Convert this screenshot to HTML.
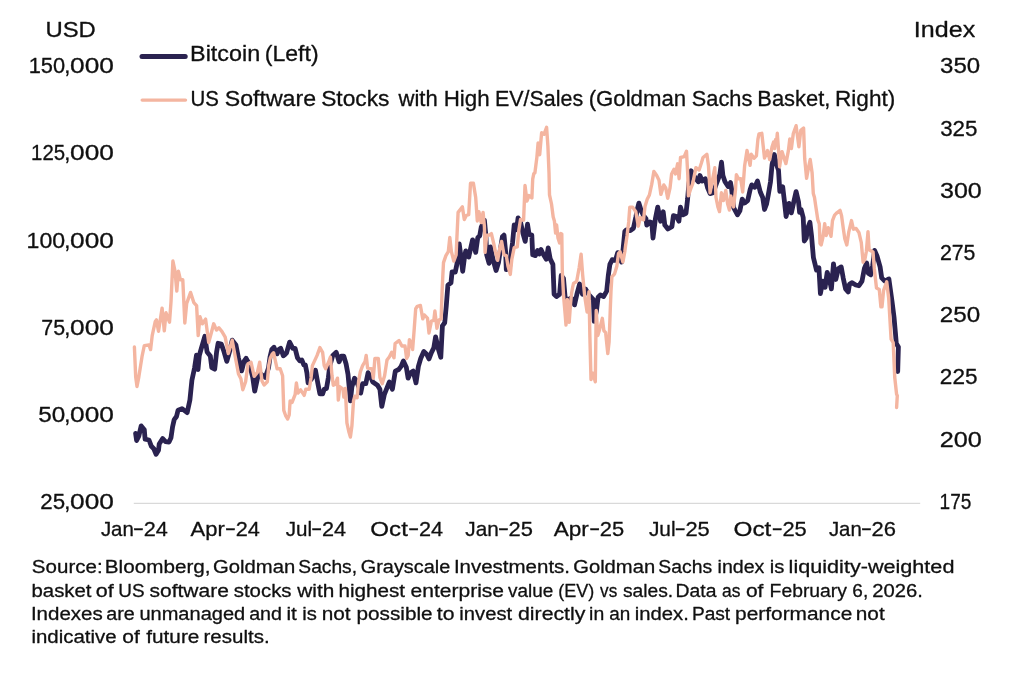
<!DOCTYPE html>
<html lang="en">
<head>
<meta charset="utf-8">
<title>Bitcoin vs US Software Stocks</title>
<style>
html,body{margin:0;padding:0;background:#fff;}
body{width:1024px;height:675px;overflow:hidden;}
svg{display:block;}
svg text{font-family:"Liberation Sans",sans-serif;fill:#101010;stroke:#101010;stroke-width:0.3px;stroke-linejoin:round;}
</style>
</head>
<body>
<svg width="1024" height="675" viewBox="0 0 1024 675">
<rect width="1024" height="675" fill="#ffffff"/>
<line x1="133.8" y1="503.3" x2="920.2" y2="503.3" stroke="#d9d9d9" stroke-width="1.2"/>
<path d="M135.6,433.5 L136.6,440.5 L138.8,436.1 L141.2,425.9 L144.3,429.8 L145.1,439.2 L149.0,440.0 L151.4,446.3 L153.8,448.7 L156.1,454.2 L158.5,450.2 L159.2,444.0 L162.7,438.5 L165.5,441.6 L169.0,442.0 L171.0,437.7 L172.6,426.7 L174.2,419.6 L176.5,416.5 L178.1,410.2 L182.0,408.6 L187.2,412.6 L189.9,400.0 L191.9,380.2 L194.6,367.7 L196.5,355.1 L198.0,369.5 L199.3,355.5 L201.6,347.3 L204.8,336.3 L207.1,352.0 L210.3,355.9 L211.8,367.7 L214.7,369.2 L216.6,352.0 L218.1,343.3 L221.3,344.1 L223.6,350.4 L226.8,361.4 L229.9,350.4 L232.2,340.2 L235.9,344.9 L238.5,358.3 L241.7,370.8 L244.0,361.4 L246.1,358.3 L249.5,364.5 L252.7,377.1 L254.7,391.2 L257.4,378.7 L258.9,372.4 L265.2,377.5 L268.5,368.0 L270.0,357.0 L271.8,349.5 L274.0,347.3 L275.5,351.0 L277.1,353.8 L278.8,349.5 L280.7,348.3 L282.0,352.0 L283.3,355.8 L285.0,354.5 L286.5,353.1 L289.6,342.1 L292.8,348.3 L295.1,348.3 L297.5,357.8 L299.8,360.9 L301.9,360.1 L303.8,364.8 L305.3,364.8 L306.9,372.7 L308.1,382.9 L311.5,379.0 L315.5,370.3 L317.9,383.7 L319.9,393.9 L322.6,393.9 L324.2,389.2 L326.5,388.4 L328.4,377.4 L329.7,366.4 L332.8,355.4 L336.2,352.3 L339.1,361.7 L341.4,356.2 L343.8,356.2 L346.1,364.0 L348.0,374.2 L349.3,388.4 L350.4,400.9 L351.9,386.8 L354.5,378.2 L356.3,380.5 L358.7,386.8 L360.7,393.1 L362.6,383.7 L365.8,383.7 L368.1,372.7 L370.5,376.6 L372.8,382.1 L377.5,385.2 L379.9,389.2 L381.8,406.4 L384.3,394.7 L386.2,389.9 L389.3,382.1 L392.4,389.2 L395.3,371.1 L398.7,369.5 L401.1,366.4 L403.4,360.9 L406.3,367.2 L408.1,378.2 L410.5,372.7 L413.2,371.1 L416.0,382.9 L418.4,366.4 L420.7,358.5 L423.8,351.5 L426.7,354.2 L429.0,358.9 L431.4,352.6 L433.8,347.9 L435.6,336.9 L438.5,349.5 L440.8,357.3 L442.4,325.9 L444.7,322.8 L446.3,305.5 L447.9,285.1 L451.0,282.8 L452.1,271.8 L455.3,272.0 L456.9,264.2 L459.2,243.8 L461.1,257.9 L462.7,271.3 L464.7,255.6 L465.8,250.9 L468.7,257.1 L471.0,246.9 L472.6,239.9 L475.7,252.4 L477.8,237.5 L479.7,235.9 L481.2,227.3 L484.4,220.2 L485.9,235.9 L486.7,254.8 L489.1,263.4 L490.6,246.9 L493.0,259.5 L496.1,270.5 L498.5,262.6 L500.1,251.6 L502.4,236.7 L504.0,235.1 L505.6,251.6 L506.3,269.7 L509.5,268.0 L511.1,253.2 L512.6,242.2 L514.2,224.9 L516.5,229.7 L518.1,217.9 L520.5,222.0 L522.8,232.8 L525.2,241.4 L527.5,224.2 L529.1,234.4 L531.8,235.1 L532.7,254.8 L535.4,255.6 L537.5,250.5 L539.3,254.0 L541.0,249.5 L543.1,254.0 L546.3,259.2 L548.2,247.9 L550.2,258.9 L552.9,264.4 L554.1,294.2 L556.5,296.5 L559.6,294.2 L561.2,275.4 L563.5,278.5 L565.1,297.3 L567.5,300.5 L571.0,298.0 L573.0,299.4 L574.5,304.9 L576.9,294.2 L579.6,284.0 L582.4,294.2 L585.5,289.0 L589.0,295.0 L593.4,299.7 L594.2,321.4 L596.5,310.4 L598.1,297.3 L600.4,295.0 L603.6,296.5 L606.7,291.1 L608.3,275.4 L609.9,264.4 L612.2,259.7 L615.4,260.4 L617.7,252.6 L621.6,262.0 L623.2,247.9 L624.8,231.4 L626.3,229.8 L630.3,230.6 L633.4,228.3 L635.8,217.3 L637.3,209.4 L638.9,203.1 L641.3,211.0 L643.6,215.7 L646.0,218.8 L646.8,225.1 L649.9,222.0 L651.8,222.8 L653.0,238.0 L655.4,218.8 L657.7,207.1 L660.6,221.2 L663.2,211.8 L664.8,225.1 L667.9,229.0 L671.9,226.7 L673.4,215.7 L676.6,216.5 L678.9,221.2 L680.5,207.1 L682.9,214.9 L686.0,213.3 L687.6,199.1 L688.9,183.4 L691.2,170.8 L693.5,175.0 L695.9,178.7 L698.3,181.8 L699.9,175.5 L702.2,181.0 L705.3,178.7 L707.7,188.1 L710.1,193.6 L713.2,192.8 L717.1,181.8 L719.8,174.7 L721.5,162.2 L722.9,175.5 L725.0,181.8 L728.1,186.5 L730.5,182.6 L731.7,189.7 L733.6,207.7 L737.5,214.8 L739.9,210.8 L742.2,199.1 L744.6,203.0 L747.7,200.6 L750.1,189.7 L751.7,184.9 L754.8,187.3 L757.5,181.0 L760.3,192.0 L762.7,197.5 L764.5,209.5 L766.6,203.8 L768.1,195.9 L770.5,181.8 L772.1,164.5 L774.3,154.5 L776.6,164.5 L778.5,170.2 L779.8,191.4 L782.7,186.7 L784.5,202.0 L786.1,216.5 L789.0,203.4 L791.4,212.8 L793.8,201.8 L796.1,191.6 L798.5,201.8 L799.6,212.4 L801.1,209.6 L803.2,217.5 L804.3,241.0 L806.3,237.9 L807.6,228.5 L809.9,222.2 L811.5,235.5 L813.4,257.5 L816.5,270.1 L818.9,267.7 L820.4,293.6 L822.8,281.1 L825.1,287.3 L827.2,272.4 L829.1,277.9 L831.4,288.9 L833.5,263.8 L835.8,279.5 L838.5,268.5 L841.2,266.9 L843.2,277.9 L845.6,288.9 L848.2,292.0 L849.5,284.2 L851.8,282.6 L855.8,285.0 L858.9,285.8 L862.0,281.1 L864.4,268.5 L866.7,263.0 L868.3,273.2 L870.7,274.8 L872.7,265.4 L874.6,250.4 L877.0,255.9 L880.1,266.9 L881.7,277.9 L884.8,281.1 L888.9,279.0 L890.3,289.0 L892.0,301.4 L894.0,317.0 L895.4,332.8 L896.3,343.5 L898.4,347.0 L897.7,371.5" fill="none" stroke="#2a2250" stroke-width="4.8" stroke-linejoin="round" stroke-linecap="round"/>
<path d="M134.4,347.0 L135.7,377.1 L137.0,386.5 L138.8,377.1 L142.0,356.7 L144.3,345.7 L149.0,344.9 L150.6,349.6 L152.2,335.6 L155.3,321.4 L156.4,319.9 L158.5,331.3 L162.1,308.1 L164.3,330.8 L166.0,312.8 L169.5,322.2 L171.0,301.8 L172.9,261.0 L175.0,271.2 L176.8,291.1 L178.4,271.2 L180.4,279.8 L182.8,279.8 L184.8,323.0 L186.7,303.4 L190.6,292.4 L193.8,302.6 L196.6,305.7 L198.2,335.6 L200.0,316.7 L202.4,323.8 L205.6,319.1 L208.7,342.6 L211.0,334.0 L213.7,323.8 L216.5,330.1 L218.9,327.7 L222.0,331.6 L225.2,337.1 L228.3,353.6 L232.2,340.2 L235.4,357.5 L238.5,374.0 L240.9,378.7 L242.8,389.7 L245.6,381.8 L248.0,363.8 L251.0,362.2 L254.2,376.3 L257.4,372.4 L259.7,362.2 L262.0,381.0 L264.1,385.0 L267.3,381.8 L268.8,365.0 L270.3,358.0 L272.0,354.5 L273.6,352.7 L277.1,368.8 L280.2,368.8 L282.6,375.8 L283.8,410.4 L285.7,415.8 L287.7,419.0 L289.2,415.0 L290.1,400.9 L292.0,402.5 L295.1,394.7 L296.4,382.9 L297.9,393.1 L300.6,389.9 L304.2,395.4 L305.8,389.2 L309.2,389.2 L311.1,377.4 L312.4,365.6 L317.1,355.4 L319.9,347.6 L322.6,352.3 L324.2,365.6 L325.7,368.8 L328.4,362.5 L330.4,357.0 L332.0,375.8 L333.3,385.2 L335.2,384.4 L337.5,378.2 L338.3,400.1 L339.9,386.8 L343.0,389.2 L343.8,397.0 L345.4,388.4 L346.9,422.9 L349.0,432.3 L350.4,437.0 L351.9,426.1 L353.5,400.9 L354.8,396.2 L357.1,397.8 L358.7,380.5 L360.3,371.9 L362.6,365.6 L365.0,361.7 L366.2,355.4 L367.6,368.0 L372.0,368.8 L373.3,378.2 L374.9,358.5 L378.3,358.5 L379.9,377.4 L382.2,383.7 L384.6,375.8 L387.0,360.1 L389.3,357.0 L391.7,352.3 L394.0,357.8 L395.1,343.6 L399.0,340.5 L401.9,346.0 L405.0,346.0 L406.6,358.5 L408.2,355.4 L409.4,339.7 L411.3,342.8 L412.6,349.5 L414.1,330.6 L415.7,308.7 L417.3,306.3 L420.4,305.5 L422.8,318.9 L424.3,314.9 L427.5,318.1 L429.0,333.0 L431.4,321.2 L433.8,320.4 L434.9,311.0 L436.9,328.3 L439.2,319.7 L441.1,318.9 L442.1,291.4 L442.8,276.0 L443.5,262.6 L445.9,255.6 L448.3,251.6 L449.8,237.5 L451.4,251.6 L453.8,261.1 L456.1,254.8 L458.1,212.4 L462.4,206.9 L464.3,219.5 L466.3,215.5 L468.7,214.7 L470.5,183.3 L473.4,183.3 L475.7,197.5 L477.3,221.0 L478.9,211.6 L481.2,222.6 L483.1,212.4 L484.4,226.5 L485.1,252.4 L486.7,235.1 L489.1,235.1 L491.4,233.6 L493.8,243.8 L495.4,251.6 L497.7,260.3 L499.7,248.5 L501.6,241.4 L504.0,254.8 L506.3,255.6 L507.9,265.8 L510.3,274.4 L511.8,259.5 L514.2,247.7 L517.3,246.9 L518.9,229.7 L520.5,219.5 L523.6,220.2 L525.0,185.5 L527.0,201.0 L529.0,195.6 L531.9,197.9 L532.7,179.1 L533.8,173.6 L534.9,172.8 L536.9,157.1 L538.1,143.0 L539.7,154.7 L541.6,132.8 L544.0,134.3 L546.6,127.3 L547.9,146.1 L549.0,172.8 L549.5,194.8 L551.5,204.0 L553.2,217.0 L554.4,221.0 L555.6,233.0 L556.6,225.0 L558.0,238.0 L559.6,243.0 L560.7,233.5 L561.8,234.0 L562.3,270.6 L563.5,295.0 L565.1,313.5 L566.0,325.0 L567.3,299.5 L569.2,322.3 L570.6,303.0 L571.6,293.0 L572.6,287.5 L573.5,283.5 L576.7,281.3 L579.2,267.5 L581.1,254.2 L582.7,275.4 L584.7,296.0 L587.1,312.0 L589.0,291.6 L589.9,337.1 L591.0,379.5 L592.9,373.2 L595.3,381.8 L596.2,310.4 L597.8,335.5 L599.7,329.2 L602.3,318.3 L603.9,330.8 L605.6,332.4 L607.8,353.6 L609.1,341.8 L610.3,308.8 L611.0,291.1 L611.9,276.9 L614.6,273.8 L616.9,265.9 L618.5,253.4 L620.1,251.8 L622.9,262.0 L624.8,251.8 L625.6,245.5 L627.1,235.3 L628.7,222.0 L629.8,207.1 L632.6,207.1 L635.8,211.8 L638.3,226.2 L640.4,217.6 L643.5,220.0 L645.0,206.6 L647.2,199.3 L649.4,195.0 L651.7,184.4 L653.9,171.4 L656.7,175.5 L659.0,180.2 L660.9,194.4 L663.8,184.9 L665.8,188.1 L667.7,198.3 L670.0,188.1 L671.6,174.0 L674.0,169.2 L675.5,174.0 L677.6,163.8 L679.1,178.7 L680.5,157.5 L684.2,156.7 L686.5,151.2 L687.8,175.5 L688.4,195.9 L690.4,189.7 L692.8,183.4 L695.9,167.7 L699.1,170.0 L701.4,163.0 L703.0,157.5 L706.9,154.3 L708.5,166.1 L710.1,192.8 L712.4,180.2 L714.8,167.7 L716.0,197.5 L717.9,206.9 L719.5,211.6 L721.4,192.8 L723.4,200.6 L725.8,190.4 L727.6,203.8 L729.4,210.1 L730.8,195.9 L733.6,206.9 L735.5,189.7 L736.4,174.7 L738.6,178.7 L740.7,178.7 L742.7,192.0 L744.6,166.1 L747.0,150.4 L750.1,165.3 L751.2,154.3 L754.0,158.3 L756.4,155.9 L757.9,139.4 L759.0,133.9 L761.8,133.3 L763.2,146.0 L764.5,158.0 L767.5,150.6 L769.7,159.6 L772.0,147.0 L773.6,142.0 L774.6,148.5 L775.6,139.5 L776.4,144.0 L777.3,133.3 L778.6,151.0 L779.6,166.7 L782.0,151.6 L785.9,163.6 L788.4,150.6 L789.8,139.0 L791.4,148.5 L793.3,133.5 L796.1,125.7 L798.9,146.9 L800.8,130.4 L803.6,128.1 L804.7,158.7 L806.6,178.3 L808.7,166.5 L810.2,159.5 L812.1,172.8 L813.3,193.5 L814.5,197.5 L815.7,205.7 L817.8,219.8 L819.3,223.8 L820.0,243.4 L821.2,244.9 L822.8,237.9 L824.7,223.8 L826.2,235.5 L828.3,227.7 L831.0,236.3 L832.5,220.6 L834.6,215.1 L836.9,212.8 L840.1,210.4 L841.6,215.9 L843.2,227.7 L844.8,238.7 L846.8,244.9 L848.7,232.4 L851.5,220.6 L853.4,229.2 L856.1,228.5 L858.9,232.4 L861.3,242.6 L863.1,262.2 L864.9,259.1 L866.4,251.2 L868.0,231.6 L869.1,249.7 L873.0,252.0 L874.3,268.5 L876.5,288.1 L879.3,289.6 L880.9,306.9 L882.0,306.9 L883.6,290.4 L886.7,281.8 L888.7,298.3 L891.1,339.1 L893.2,342.6 L894.7,377.0 L896.6,394.3 L897.3,395.5 L896.6,407.5" fill="none" stroke="#f4b5a0" stroke-width="3.4" stroke-linejoin="round" stroke-linecap="round"/>
<text y="37.0" font-size="22.7"><tspan x="45.45" textLength="50.41" lengthAdjust="spacingAndGlyphs">USD</tspan></text>
<text y="37.0" font-size="22.7"><tspan x="913.88" textLength="61.35" lengthAdjust="spacingAndGlyphs">Index</tspan></text>
<text y="73.3" font-size="21.3"><tspan x="28.66" y="73.3" textLength="36.43" lengthAdjust="spacingAndGlyphs">150</tspan><tspan x="64.22" y="73.3" textLength="6.13" lengthAdjust="spacingAndGlyphs">,</tspan><tspan x="70.05" y="73.3" textLength="43.81" lengthAdjust="spacingAndGlyphs">000</tspan></text>
<text y="160.4" font-size="21.3"><tspan x="31.07" y="160.4" textLength="34.02" lengthAdjust="spacingAndGlyphs">125</tspan><tspan x="64.22" y="160.4" textLength="6.13" lengthAdjust="spacingAndGlyphs">,</tspan><tspan x="70.05" y="160.4" textLength="43.81" lengthAdjust="spacingAndGlyphs">000</tspan></text>
<text y="247.5" font-size="21.3"><tspan x="26.57" y="247.5" textLength="38.57" lengthAdjust="spacingAndGlyphs">100</tspan><tspan x="64.22" y="247.5" textLength="6.13" lengthAdjust="spacingAndGlyphs">,</tspan><tspan x="70.05" y="247.5" textLength="43.81" lengthAdjust="spacingAndGlyphs">000</tspan></text>
<text y="334.6" font-size="21.3"><tspan x="41.38" y="334.6" textLength="23.78" lengthAdjust="spacingAndGlyphs">75</tspan><tspan x="64.22" y="334.6" textLength="6.13" lengthAdjust="spacingAndGlyphs">,</tspan><tspan x="70.05" y="334.6" textLength="43.81" lengthAdjust="spacingAndGlyphs">000</tspan></text>
<text y="421.7" font-size="21.3"><tspan x="38.23" y="421.7" textLength="26.99" lengthAdjust="spacingAndGlyphs">50</tspan><tspan x="64.22" y="421.7" textLength="6.13" lengthAdjust="spacingAndGlyphs">,</tspan><tspan x="70.05" y="421.7" textLength="43.81" lengthAdjust="spacingAndGlyphs">000</tspan></text>
<text y="508.8" font-size="21.3"><tspan x="40.38" y="508.8" textLength="24.81" lengthAdjust="spacingAndGlyphs">25</tspan><tspan x="64.22" y="508.8" textLength="6.13" lengthAdjust="spacingAndGlyphs">,</tspan><tspan x="70.05" y="508.8" textLength="43.81" lengthAdjust="spacingAndGlyphs">000</tspan></text>
<text y="73.3" font-size="21.3"><tspan x="940.1" textLength="40.08" lengthAdjust="spacingAndGlyphs">350</tspan></text>
<text y="135.5" font-size="21.3"><tspan x="940.16" textLength="37.31" lengthAdjust="spacingAndGlyphs">325</tspan></text>
<text y="197.7" font-size="21.3"><tspan x="940.06" textLength="41.75" lengthAdjust="spacingAndGlyphs">300</tspan></text>
<text y="259.9" font-size="21.3"><tspan x="939.94" textLength="35.49" lengthAdjust="spacingAndGlyphs">275</tspan></text>
<text y="322.1" font-size="21.3"><tspan x="939.79" textLength="40.39" lengthAdjust="spacingAndGlyphs">250</tspan></text>
<text y="384.3" font-size="21.3"><tspan x="939.87" textLength="37.6" lengthAdjust="spacingAndGlyphs">225</tspan></text>
<text y="446.5" font-size="21.3"><tspan x="939.74" textLength="42.08" lengthAdjust="spacingAndGlyphs">200</tspan></text>
<text y="508.7" font-size="21.3"><tspan x="939.57" textLength="31.76" lengthAdjust="spacingAndGlyphs">175</tspan></text>
<text y="536.0" font-size="20.8"><tspan x="100.89" y="536.0" textLength="32.93" lengthAdjust="spacingAndGlyphs">Jan</tspan><tspan x="132.87" y="535.4" textLength="11.33" lengthAdjust="spacingAndGlyphs">-</tspan><tspan x="143.72" y="536.0" textLength="24.08" lengthAdjust="spacingAndGlyphs">24</tspan></text>
<text y="536.0" font-size="20.8"><tspan x="190.54" y="536.0" textLength="34.26" lengthAdjust="spacingAndGlyphs">Apr</tspan><tspan x="224.87" y="535.4" textLength="11.33" lengthAdjust="spacingAndGlyphs">-</tspan><tspan x="235.72" y="536.0" textLength="24.08" lengthAdjust="spacingAndGlyphs">24</tspan></text>
<text y="536.0" font-size="20.8"><tspan x="285.69" y="536.0" textLength="26.37" lengthAdjust="spacingAndGlyphs">Jul</tspan><tspan x="311.07" y="535.4" textLength="11.33" lengthAdjust="spacingAndGlyphs">-</tspan><tspan x="321.92" y="536.0" textLength="24.08" lengthAdjust="spacingAndGlyphs">24</tspan></text>
<text y="536.0" font-size="20.8"><tspan x="370.36" y="536.0" textLength="37.49" lengthAdjust="spacingAndGlyphs">Oct</tspan><tspan x="408.07" y="535.4" textLength="11.33" lengthAdjust="spacingAndGlyphs">-</tspan><tspan x="418.92" y="536.0" textLength="24.08" lengthAdjust="spacingAndGlyphs">24</tspan></text>
<text y="536.0" font-size="20.8"><tspan x="465.29" y="536.0" textLength="33.46" lengthAdjust="spacingAndGlyphs">Jan</tspan><tspan x="497.77" y="535.4" textLength="11.33" lengthAdjust="spacingAndGlyphs">-</tspan><tspan x="508.6" y="536.0" textLength="24.37" lengthAdjust="spacingAndGlyphs">25</tspan></text>
<text y="536.0" font-size="20.8"><tspan x="553.74" y="536.0" textLength="35.17" lengthAdjust="spacingAndGlyphs">Apr</tspan><tspan x="588.97" y="535.4" textLength="11.33" lengthAdjust="spacingAndGlyphs">-</tspan><tspan x="599.8" y="536.0" textLength="24.37" lengthAdjust="spacingAndGlyphs">25</tspan></text>
<text y="536.0" font-size="20.8"><tspan x="648.89" y="536.0" textLength="26.69" lengthAdjust="spacingAndGlyphs">Jul</tspan><tspan x="674.57" y="535.4" textLength="11.33" lengthAdjust="spacingAndGlyphs">-</tspan><tspan x="685.4" y="536.0" textLength="24.37" lengthAdjust="spacingAndGlyphs">25</tspan></text>
<text y="536.0" font-size="20.8"><tspan x="733.55" y="536.0" textLength="37.8" lengthAdjust="spacingAndGlyphs">Oct</tspan><tspan x="771.57" y="535.4" textLength="11.33" lengthAdjust="spacingAndGlyphs">-</tspan><tspan x="782.4" y="536.0" textLength="24.37" lengthAdjust="spacingAndGlyphs">25</tspan></text>
<text y="536.0" font-size="20.8"><tspan x="828.89" y="536.0" textLength="32.83" lengthAdjust="spacingAndGlyphs">Jan</tspan><tspan x="860.77" y="535.4" textLength="11.33" lengthAdjust="spacingAndGlyphs">-</tspan><tspan x="871.6" y="536.0" textLength="24.43" lengthAdjust="spacingAndGlyphs">26</tspan></text>
<line x1="142" y1="56.5" x2="185.2" y2="56.5" stroke="#2a2250" stroke-width="5" stroke-linecap="round"/>
<line x1="142.2" y1="100.1" x2="185.5" y2="100.1" stroke="#f4b5a0" stroke-width="3.4" stroke-linecap="round"/>
<text y="61.2" font-size="21.3"><tspan x="190.07" textLength="70.13" lengthAdjust="spacingAndGlyphs">Bitcoin</tspan> <tspan x="264.76" textLength="53.87" lengthAdjust="spacingAndGlyphs">(Left)</tspan></text>
<text y="105.5" font-size="21.3"><tspan x="190.42" textLength="28.39" lengthAdjust="spacingAndGlyphs">US</tspan> <tspan x="224.76" textLength="91.31" lengthAdjust="spacingAndGlyphs">Software</tspan> <tspan x="321.18" textLength="68.29" lengthAdjust="spacingAndGlyphs">Stocks</tspan> <tspan x="398.5" textLength="39.2" lengthAdjust="spacingAndGlyphs">with</tspan> <tspan x="443.66" textLength="45.99" lengthAdjust="spacingAndGlyphs">High</tspan> <tspan x="495.03" textLength="88.19" lengthAdjust="spacingAndGlyphs">EV/Sales</tspan> <tspan x="588.71" textLength="97.39" lengthAdjust="spacingAndGlyphs">(Goldman</tspan> <tspan x="691.82" textLength="60.48" lengthAdjust="spacingAndGlyphs">Sachs</tspan> <tspan x="757.29" textLength="73.13" lengthAdjust="spacingAndGlyphs">Basket,</tspan> <tspan x="835.04" textLength="60.23" lengthAdjust="spacingAndGlyphs">Right)</tspan></text>
<text y="573.3" font-size="18.8"><tspan x="31.88" textLength="70.75" lengthAdjust="spacingAndGlyphs">Source:</tspan> <tspan x="104.79" textLength="105.75" lengthAdjust="spacingAndGlyphs">Bloomberg,</tspan> <tspan x="212.99" textLength="82.18" lengthAdjust="spacingAndGlyphs">Goldman</tspan> <tspan x="298.34" textLength="58.74" lengthAdjust="spacingAndGlyphs">Sachs,</tspan> <tspan x="360.81" textLength="89.42" lengthAdjust="spacingAndGlyphs">Grayscale</tspan> <tspan x="453.9" textLength="116.17" lengthAdjust="spacingAndGlyphs">Investments.</tspan> <tspan x="573.19" textLength="81.98" lengthAdjust="spacingAndGlyphs">Goldman</tspan> <tspan x="658.33" textLength="53.79" lengthAdjust="spacingAndGlyphs">Sachs</tspan> <tspan x="717.58" textLength="46.83" lengthAdjust="spacingAndGlyphs">index</tspan> <tspan x="769.83" textLength="14.62" lengthAdjust="spacingAndGlyphs">is</tspan> <tspan x="788.64" textLength="165.79" lengthAdjust="spacingAndGlyphs">liquidity-weighted</tspan></text>
<text y="596.5" font-size="18.8"><tspan x="31.48" textLength="60.06" lengthAdjust="spacingAndGlyphs">basket</tspan> <tspan x="95.89" textLength="17.94" lengthAdjust="spacingAndGlyphs">of</tspan> <tspan x="118.33" textLength="26.3" lengthAdjust="spacingAndGlyphs">US</tspan> <tspan x="149.52" textLength="79.36" lengthAdjust="spacingAndGlyphs">software</tspan> <tspan x="233.74" textLength="57.8" lengthAdjust="spacingAndGlyphs">stocks</tspan> <tspan x="297.3" textLength="37.02" lengthAdjust="spacingAndGlyphs">with</tspan> <tspan x="338.45" textLength="66.65" lengthAdjust="spacingAndGlyphs">highest</tspan> <tspan x="410.51" textLength="93.58" lengthAdjust="spacingAndGlyphs">enterprise</tspan> <tspan x="508.11" textLength="45.26" lengthAdjust="spacingAndGlyphs">value</tspan> <tspan x="558.28" textLength="36.0" lengthAdjust="spacingAndGlyphs">(EV)</tspan> <tspan x="600.11" textLength="17.14" lengthAdjust="spacingAndGlyphs">vs</tspan> <tspan x="622.97" textLength="50.21" lengthAdjust="spacingAndGlyphs">sales.</tspan> <tspan x="675.61" textLength="40.79" lengthAdjust="spacingAndGlyphs">Data</tspan> <tspan x="722.06" textLength="18.42" lengthAdjust="spacingAndGlyphs">as</tspan> <tspan x="745.91" textLength="17.52" lengthAdjust="spacingAndGlyphs">of</tspan> <tspan x="769.61" textLength="77.27" lengthAdjust="spacingAndGlyphs">February</tspan> <tspan x="852.35" textLength="15.84" lengthAdjust="spacingAndGlyphs">6,</tspan> <tspan x="872.39" textLength="50.58" lengthAdjust="spacingAndGlyphs">2026.</tspan></text>
<text y="619.8" font-size="18.8"><tspan x="30.9" textLength="71.87" lengthAdjust="spacingAndGlyphs">Indexes</tspan> <tspan x="106.26" textLength="28.54" lengthAdjust="spacingAndGlyphs">are</tspan> <tspan x="139.4" textLength="105.85" lengthAdjust="spacingAndGlyphs">unmanaged</tspan> <tspan x="249.16" textLength="32.84" lengthAdjust="spacingAndGlyphs">and</tspan> <tspan x="286.49" textLength="10.41" lengthAdjust="spacingAndGlyphs">it</tspan> <tspan x="302.33" textLength="14.62" lengthAdjust="spacingAndGlyphs">is</tspan> <tspan x="321.7" textLength="28.91" lengthAdjust="spacingAndGlyphs">not</tspan> <tspan x="356.55" textLength="76.11" lengthAdjust="spacingAndGlyphs">possible</tspan> <tspan x="436.88" textLength="17.65" lengthAdjust="spacingAndGlyphs">to</tspan> <tspan x="459.34" textLength="52.76" lengthAdjust="spacingAndGlyphs">invest</tspan> <tspan x="518.0" textLength="67.41" lengthAdjust="spacingAndGlyphs">directly</tspan> <tspan x="589.09" textLength="15.14" lengthAdjust="spacingAndGlyphs">in</tspan> <tspan x="609.2" textLength="21.03" lengthAdjust="spacingAndGlyphs">an</tspan> <tspan x="634.83" textLength="54.06" lengthAdjust="spacingAndGlyphs">index.</tspan> <tspan x="691.92" textLength="38.29" lengthAdjust="spacingAndGlyphs">Past</tspan> <tspan x="735.14" textLength="117.12" lengthAdjust="spacingAndGlyphs">performance</tspan> <tspan x="855.8" textLength="28.91" lengthAdjust="spacingAndGlyphs">not</tspan></text>
<text y="643.2" font-size="18.8"><tspan x="31.42" textLength="85.23" lengthAdjust="spacingAndGlyphs">indicative</tspan> <tspan x="122.31" textLength="17.52" lengthAdjust="spacingAndGlyphs">of</tspan> <tspan x="146.29" textLength="53.09" lengthAdjust="spacingAndGlyphs">future</tspan> <tspan x="203.51" textLength="66.2" lengthAdjust="spacingAndGlyphs">results.</tspan></text>
</svg>
</body>
</html>
